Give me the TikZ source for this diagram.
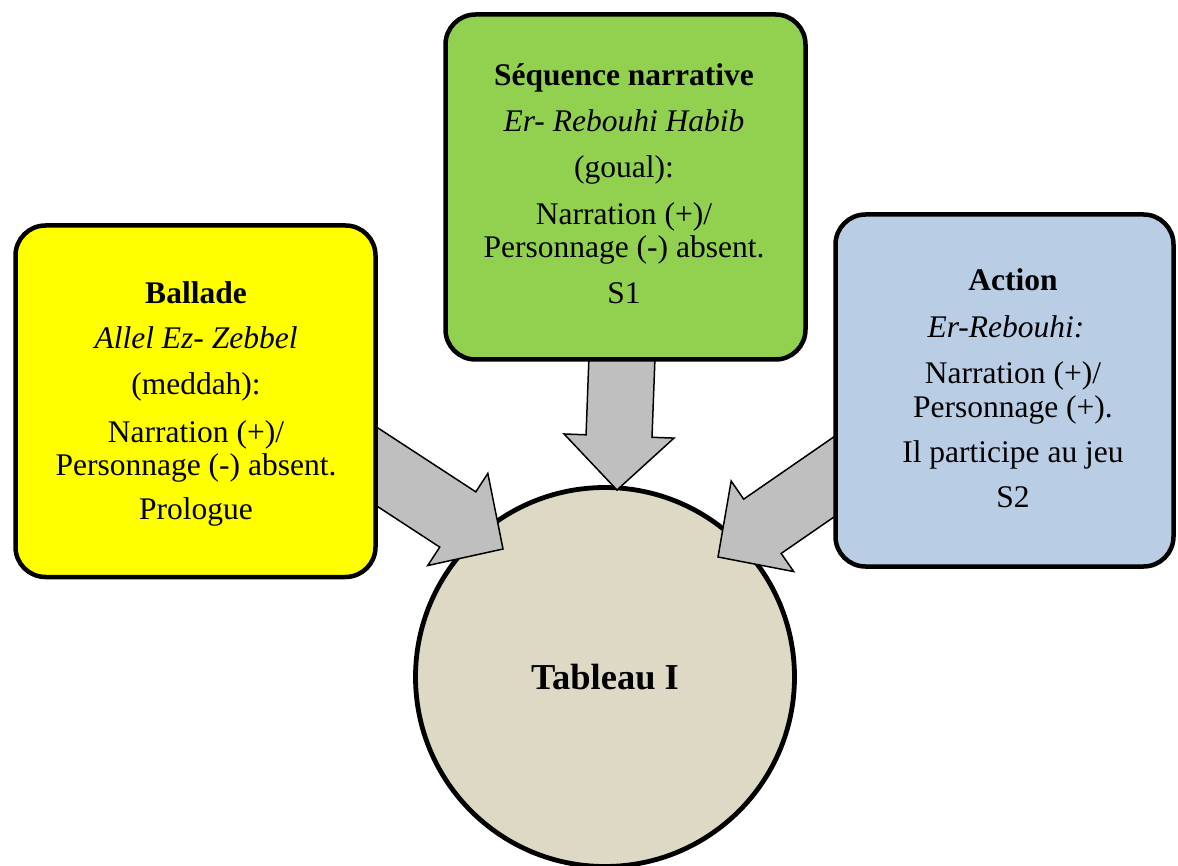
\documentclass[tikz,border=0pt]{standalone}
\usepackage{fontspec}
\setmainfont{Liberation Serif}
\usetikzlibrary{calc}

\pgfdeclarelayer{front}
\pgfsetlayers{main,front}

\definecolor{boxyellow}{HTML}{FFFF00}
\definecolor{boxgreen}{HTML}{92D050}
\definecolor{boxblue}{HTML}{B9CDE5}
\definecolor{hubtan}{HTML}{DDD9C4}
\definecolor{arrowgray}{HTML}{BFBFBF}

\tikzset{
  panel/.style={draw=black, line width=4.5pt, rounded corners=30pt, inner sep=0pt},
  paneltext/.style={align=center, inner sep=0pt, font=\fontsize{31.5}{33}\selectfont},
  hub/.style={circle, draw=black, line width=4.8pt, fill=hubtan, inner sep=0pt,
              minimum size=379pt, font=\fontsize{36.5}{40}\selectfont\bfseries},
  blockarrow/.style={draw=black, line width=1.5pt, fill=arrowgray, line join=miter},
}

% Block arrow from #1 (tail, hidden under a panel) to #2 (tip)
\newcommand\blockarrow[2]{%
  \path ($(#2)!54pt!(#1)$) coordinate (#2-n);
  \draw[blockarrow]
    ($(#1)!33pt!90:(#2)$) --
    ($(#2-n)!33pt!90:(#2)$) --
    ($(#2-n)!55pt!90:(#2)$) --
    (#2) --
    ($(#2-n)!55pt!-90:(#2)$) --
    ($(#2-n)!33pt!-90:(#2)$) --
    ($(#1)!33pt!-90:(#2)$) -- cycle;
}

\begin{document}
\begin{tikzpicture}[x=1pt, y=-1pt]
\useasboundingbox (0,0) rectangle (1178,866);
\fill[white] (0,0) rectangle (1178,866);

% central circle
\node[hub] (tableau) at (605,677) {Tableau I};

% the three panels, kept above the arrows
\begin{pgfonlayer}{front}
\node[panel, fill=boxyellow, minimum width=360pt, minimum height=351.5pt] (ballade) at (195.5,401.25) {};
\node[paneltext] (ballade-text) at (196,404) {%
  \textbf{Ballade}\\[12pt]
  \textit{Allel Ez- Zebbel}\\[13pt]
  (meddah):\\[15pt]
  Narration (+)/\\
  Personnage (-) absent.\\[11pt]
  Prologue};

\node[panel, fill=boxgreen, minimum width=360pt, minimum height=345pt] (sequence) at (625.5,187) {};
\node[paneltext] (sequence-text) at (624,184) {%
  \textbf{Séquence narrative}\\[13pt]
  \textit{Er- Rebouhi Habib}\\[13pt]
  (goual):\\[14pt]
  Narration (+)/\\
  Personnage (-) absent.\\[13pt]
  S1};

\node[panel, fill=boxblue, minimum width=338pt, minimum height=352pt] (action) at (1004.5,390.5) {};
\node[paneltext] (action-text) at (1013,388) {%
  \textbf{Action}\\[14pt]
  \hbox{\textit{Er-Rebouhi:}\kern14pt}\\[13pt]
  Narration (+)/\\[1pt]
  Personnage (+).\\[12pt]
  Il participe au jeu\\[12pt]
  S2};
\end{pgfonlayer}

% arrow ends
\coordinate (ballade-out)  at (336,440);
\coordinate (ballade-in)   at (503,549);
\coordinate (sequence-out) at (623,330);
\coordinate (sequence-in)  at (617,490);
\coordinate (action-out)   at (870,452);
\coordinate (action-in)    at (718,557);

\blockarrow{ballade-out}{ballade-in}
\blockarrow{sequence-out}{sequence-in}
\blockarrow{action-out}{action-in}
\end{tikzpicture}
\end{document}
